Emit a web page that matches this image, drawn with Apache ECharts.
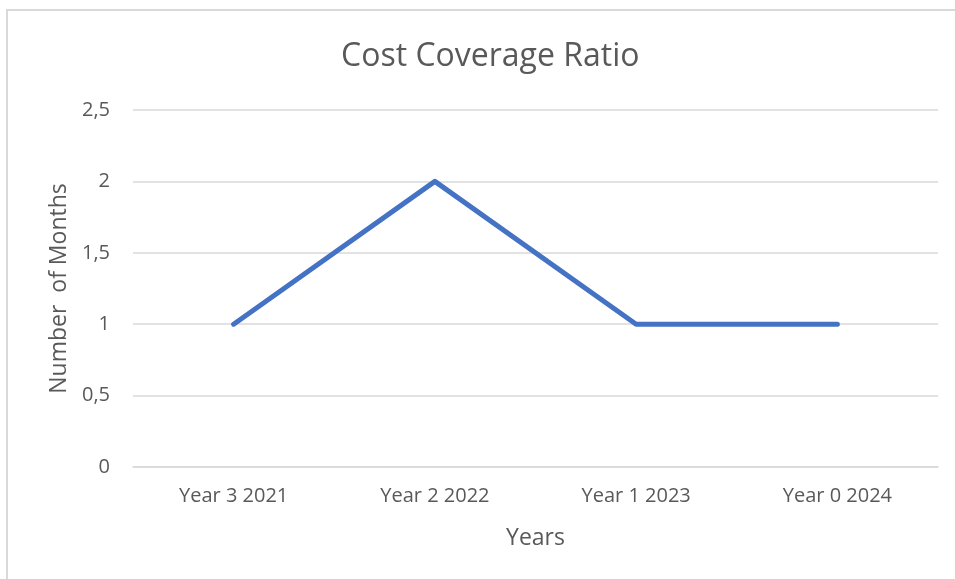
<!DOCTYPE html>
<html>
<head>
<meta charset="utf-8">
<script src="https://cdn.jsdelivr.net/npm/echarts@6/dist/echarts.min.js"></script>
<style>
  html, body { margin: 0; padding: 0; background: #fff; }
  #chart { width: 955px; height: 579px; }
</style>
</head>
<body>
<div id="chart"></div>
<script>
const categories = ['Year 3 2021', 'Year 2 2022', 'Year 1 2023', 'Year 0 2024']
const months = [1, 2, 1, 1]

const textColor = '#595959'
const chart = echarts.init(document.getElementById('chart'))

chart.setOption({
  animation: false,
  textStyle: { fontFamily: 'Open Sans, sans-serif' },
  // chart area frame (only left/top edges visible in the crop)
  graphic: [{
    type: 'rect',
    shape: { x: 7, y: 10, width: 1000, height: 1000 },
    style: { fill: 'none', stroke: '#d9d9d9', lineWidth: 2 }
  }],
  title: {
    text: 'Cost Coverage Ratio',
    left: 336,
    top: 36,
    textStyle: { fontSize: 32, fontWeight: 'normal', color: textColor }
  },
  grid: { left: 133, right: 17, top: 110, bottom: 112 },
  xAxis: {
    type: 'category',
    data: categories,
    name: 'Years',
    nameLocation: 'middle',
    nameGap: 60,
    nameTextStyle: { fontSize: 23, color: textColor },
    axisLine: { lineStyle: { color: '#d9d9d9', width: 1.5 } },
    axisTick: { show: false },
    axisLabel: { fontSize: 20, color: textColor, margin: 19 }
  },
  yAxis: {
    type: 'value',
    min: 0,
    max: 2.5,
    interval: 0.5,
    name: 'Number  of Months',
    nameLocation: 'middle',
    nameGap: 61,
    nameTextStyle: { fontSize: 23, color: textColor },
    axisLine: { show: false },
    axisTick: { show: false },
    splitLine: { lineStyle: { color: '#d9d9d9', width: 1.5 } },
    axisLabel: {
      fontSize: 20,
      color: textColor,
      margin: 23,
      formatter: v => String(v).replace('.', ',')
    }
  },
  series: [{
    type: 'line',
    data: months,
    showSymbol: false,
    lineStyle: { color: '#4472C4', width: 5, cap: 'round', join: 'round' }
  }]
})
</script>
</body>
</html>
